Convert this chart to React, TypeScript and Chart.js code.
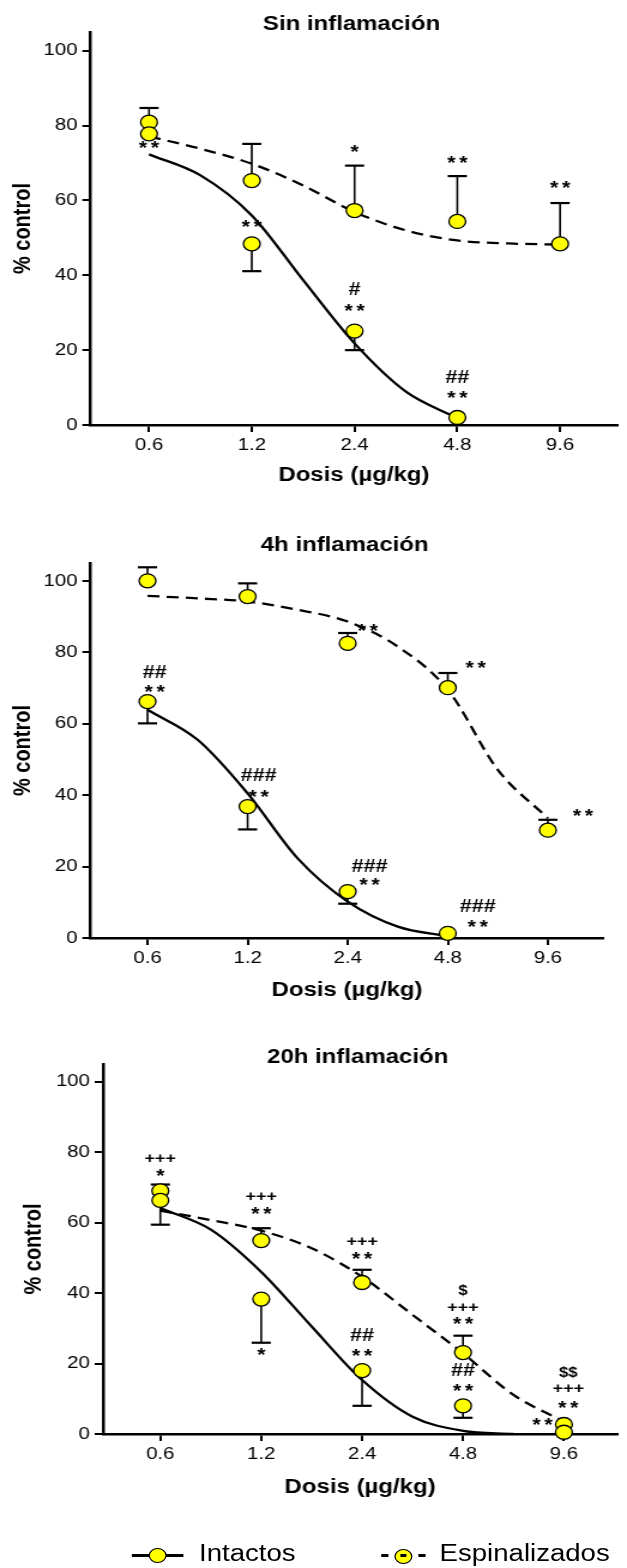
import React, { useEffect, useRef } from 'react';
import { Chart, registerables } from 'chart.js';

Chart.register(...registerables);

const FONT = "'Liberation Sans', Arial, Helvetica, sans-serif";
const W = 523;
const STRETCH = 627 / W;

// ---------- shared labels ----------
const doses = [0.6, 1.2, 2.4, 4.8, 9.6];
const xTickLabels = ['0.6', '1.2', '2.4', '4.8', '9.6'];
const yTicks = [0, 20, 40, 60, 80, 100];
const panelTitles = ['Sin inflamación', '4h inflamación', '20h inflamación'];
const xAxisTitle = 'Dosis (µg/kg)';
const yAxisTitle = '% control';
const legendLabels = ['Intactos', 'Espinalizados'];
const fitDoses = [0.6, 0.849, 1.2, 1.697, 2.4, 3.394, 4.8, 6.788, 9.6];

// ---------- panel 1: Sin inflamación ----------
const p1IntDose = [0.6, 1.2, 2.4, 4.8];
const p1IntMean = [77.8, 48.4, 25.1, 2.0];
const p1IntErr = [null, 41.1, 20.0, null];
const p1IntFit = [72.3, 66.7, 56.0, 38.7, 21.8, 8.9, 1.8];
const p1EspDose = [0.6, 1.2, 2.4, 4.8, 9.6];
const p1EspMean = [80.9, 65.3, 57.3, 54.4, 48.4];
const p1EspErr = [84.7, 75.1, 69.3, 66.5, 59.3];
const p1EspFit = [77.1, 73.8, 69.8, 64.0, 56.9, 52.0, 49.3, 48.5, 48.2];
const p1Marks: [number, number, string][] = [
  [0.6, 75.1, '**'], [1.2, 54.2, '**'], [2.4, 74.2, '*'], [2.4, 36.4, '#'], [2.4, 31.6, '**'],
  [4.8, 71.1, '**'], [4.8, 12.9, '##'], [4.8, 8.4, '**'], [9.6, 64.6, '**'],
];

// ---------- panel 2: 4h inflamación ----------
const p2IntDose = [0.6, 1.2, 2.4, 4.8];
const p2IntMean = [66.2, 36.8, 13.0, 1.3];
const p2IntErr = [60.1, 30.4, 9.6, null];
const p2IntFit = [63.9, 55.5, 40.5, 22.3, 10.2, 3.2, 0.5];
const p2EspDose = [0.6, 1.2, 2.4, 4.8, 9.6];
const p2EspMean = [100.0, 95.6, 82.5, 70.1, 30.2];
const p2EspErr = [103.8, 99.3, 85.4, 74.2, 33.1];
const p2EspFit = [95.8, 95.1, 94.2, 91.9, 88.6, 81.6, 69.5, 47.1, 33.5];
const p2Marks: [number, number, string][] = [
  [0.63, 74.6, '##'], [0.63, 70.1, '**'], [2.76, 87.2, '**'], [5.82, 76.8, '**'], [12.25, 35.4, '**'],
  [1.295, 45.7, '###'], [1.295, 40.7, '**'], [2.79, 20.3, '###'], [2.79, 16.0, '**'],
  [5.91, 9.2, '###'], [5.91, 4.4, '**'],
];

// ---------- panel 3: 20h inflamación ----------
const p3IntDose = [0.6, 1.2, 2.4, 4.8, 9.6];
const p3IntMean = [66.3, 38.3, 18.0, 8.0, 0.5];
const p3IntErr = [59.4, 25.9, 8.0, 4.6, null];
const p3IntFit = [64.1, 58.0, 46.0, 30.5, 15.3, 4.9, 0.9, 0.0];
const p3EspDose = [0.6, 1.2, 2.4, 4.8, 9.6];
const p3EspMean = [69.0, 54.9, 43.0, 23.1, 2.7];
const p3EspErr = [70.8, 58.4, 46.6, 27.9, null];
const p3EspFit = [63.4, 60.7, 57.7, 52.7, 44.6, 33.8, 22.9, 11.1, 3.5];
const p3Marks: [number, number, string][] = [
  [0.6, 78.4, '+++'], [0.6, 74.5, '*'], [1.2, 67.6, '+++'], [1.2, 63.6, '**'], [1.2, 23.8, '*'],
  [2.4, 54.8, '+++'], [2.4, 50.8, '**'], [2.4, 28.1, '##'], [2.4, 23.4, '**'],
  [4.8, 40.9, '$'], [4.8, 36.1, '+++'], [4.8, 32.6, '**'], [4.8, 18.2, '##'], [4.8, 13.6, '**'],
  [9.9, 17.7, '$$'], [9.9, 13.0, '+++'], [9.9, 8.7, '**'], [8.28, 3.7, '**'],
];

// ---------- layout (not data) ----------
type Lay = { top: number; height: number; padL: number; padR: number; padT: number; padB: number; yW: number; xH: number; titleY: number; xMin: number; xMax: number };
const layouts: Lay[] = [
  { top: 0, height: 500, padL: 7, padR: 3.3, padT: 32, padB: 13, yW: 68.7, xH: 62, titleY: 24, xMin: 0.405, xMax: 14.1 },
  { top: 510, height: 500, padL: 7, padR: 19.7, padT: 53, padB: 8, yW: 68.7, xH: 64, titleY: 545, xMin: 0.405, xMax: 14.1 },
  { top: 1020, height: 490, padL: 16, padR: 0, padT: 44, padB: 11, yW: 70, xH: 65, titleY: 1057, xMin: 0.405, xMax: 13.83 },
];

const panels = [
  { title: panelTitles[0], intDose: p1IntDose, intMean: p1IntMean, intErr: p1IntErr, intFit: p1IntFit, espDose: p1EspDose, espMean: p1EspMean, espErr: p1EspErr, espFit: p1EspFit, marks: p1Marks, lay: layouts[0] },
  { title: panelTitles[1], intDose: p2IntDose, intMean: p2IntMean, intErr: p2IntErr, intFit: p2IntFit, espDose: p2EspDose, espMean: p2EspMean, espErr: p2EspErr, espFit: p2EspFit, marks: p2Marks, lay: layouts[1] },
  { title: panelTitles[2], intDose: p3IntDose, intMean: p3IntMean, intErr: p3IntErr, intFit: p3IntFit, espDose: p3EspDose, espMean: p3EspMean, espErr: p3EspErr, espFit: p3EspFit, marks: p3Marks, lay: layouts[2] },
];

// [font size, glyph centre above baseline (em), letter spacing px]
const markStyle = (t: string): [number, number, number] => {
  const c = t[0];
  if (c === '*') return [18, 0.58, 3];
  if (c === '#') return [18, 0.36, 0];
  if (c === '+') return [15, 0.33, 0];
  return [14, 0.36, 0];
};

function Panel({ spec }: { spec: any }) {
  const ref = useRef<HTMLCanvasElement>(null);
  useEffect(() => {
    const canvas = ref.current!;
    const L: Lay = spec.lay;
    const decor = {
      id: 'decor',
      beforeDatasetsDraw(chart: any) {
        const ctx = chart.ctx;
        const xs = chart.scales.x, ys = chart.scales.y;
        ctx.save();
        ctx.strokeStyle = '#000';
        const series = [[spec.intDose, spec.intMean, spec.intErr], [spec.espDose, spec.espMean, spec.espErr]];
        for (const [d, m, e] of series) {
          d.forEach((dose: number, i: number) => {
            if (e[i] == null) return;
            const x = xs.getPixelForValue(dose);
            const y0 = ys.getPixelForValue(m[i]);
            const y1 = ys.getPixelForValue(e[i]);
            ctx.lineWidth = 1.6;
            ctx.beginPath(); ctx.moveTo(x, y0); ctx.lineTo(x, y1); ctx.stroke();
            ctx.lineWidth = 2.2;
            ctx.beginPath(); ctx.moveTo(x - 8, y1); ctx.lineTo(x + 8, y1); ctx.stroke();
          });
        }
        ctx.restore();
      },
      afterDatasetsDraw(chart: any) {
        const ctx = chart.ctx;
        const xs = chart.scales.x, ys = chart.scales.y;
        ctx.save();
        ctx.fillStyle = '#000';
        ctx.textAlign = 'center';
        ctx.textBaseline = 'alphabetic';
        for (const [dose, val, txt] of spec.marks) {
          const [size, k, sp] = markStyle(txt);
          ctx.font = `bold ${size}px ${FONT}`;
          try { (ctx as any).letterSpacing = `${sp}px`; } catch (e) { /* ignore */ }
          ctx.fillText(txt, xs.getPixelForValue(dose) + sp / 2, ys.getPixelForValue(val) + k * size);
        }
        try { (ctx as any).letterSpacing = '0px'; } catch (e) { /* ignore */ }
        const a = chart.chartArea;
        ctx.font = `bold 20px ${FONT}`;
        ctx.textBaseline = 'middle';
        ctx.fillText(spec.title, (a.left + a.right) / 2 - 2, L.titleY - L.top);
        ctx.restore();
      },
    };
    const pts = (d: number[], m: number[]) => d.map((x, i) => ({ x, y: m[i] }));
    const pointDs = (label: string, d: number[], m: number[]) => ({
      label, data: pts(d, m), showLine: false, pointRadius: 7, pointHoverRadius: 7,
      pointBackgroundColor: '#FFFF00', pointBorderColor: '#000', pointBorderWidth: 1.3, clip: false as any, order: 0,
    });
    const fitDs = (label: string, f: number[], dash: number[]) => ({
      label, data: pts(fitDoses.slice(0, f.length), f), borderColor: '#000', borderWidth: 2.3,
      borderDash: dash, pointRadius: 0, cubicInterpolationMode: 'monotone' as const, fill: false, order: 2,
    });
    const tickFont = { family: FONT, size: 17 };
    const titleFont = { family: FONT, size: 20, weight: 'bold' as const };
    const chart = new Chart(canvas, {
      type: 'line',
      data: {
        datasets: [
          pointDs(legendLabels[0], spec.intDose, spec.intMean),
          pointDs(legendLabels[1], spec.espDose, spec.espMean),
          fitDs(legendLabels[0] + ' ajuste', spec.intFit, []),
          fitDs(legendLabels[1] + ' ajuste', spec.espFit, [10, 6]),
        ] as any,
      },
      options: {
        animation: false,
        responsive: false,
        devicePixelRatio: 1,
        events: [],
        layout: { padding: { left: L.padL, right: L.padR, top: L.padT, bottom: L.padB } },
        plugins: { legend: { display: false }, tooltip: { enabled: false }, title: { display: false } },
        scales: {
          x: {
            type: 'logarithmic', min: L.xMin, max: L.xMax,
            afterBuildTicks: (s: any) => { s.ticks = doses.map((v) => ({ value: v })); },
            afterFit: (s: any) => { s.height = L.xH; },
            ticks: { autoSkip: false, maxRotation: 0, color: '#000', font: tickFont, padding: 3, callback: (_v: any, i: number) => xTickLabels[i] },
            grid: { display: true, drawOnChartArea: false, drawTicks: true, tickLength: 7, color: '#000', lineWidth: 2 },
            border: { display: true, color: '#000', width: 2.5 },
            title: { display: true, text: xAxisTitle, color: '#000', font: titleFont, padding: 0 },
          },
          y: {
            type: 'linear', min: 0, max: 105,
            afterBuildTicks: (s: any) => { s.ticks = yTicks.map((v) => ({ value: v })); },
            afterFit: (s: any) => { s.width = L.yW; },
            ticks: { color: '#000', font: tickFont, padding: 4, callback: (v: any) => String(v) },
            grid: { display: true, drawOnChartArea: false, drawTicks: true, tickLength: 7, color: '#000', lineWidth: 2 },
            border: { display: true, color: '#000', width: 2.5 },
            title: { display: true, text: yAxisTitle, color: '#000', font: titleFont, padding: 0 },
          },
        },
      } as any,
      plugins: [decor],
    });
    return () => chart.destroy();
  }, [spec]);
  return (
    <canvas ref={ref} width={W} height={spec.lay.height}
      style={{ position: 'absolute', left: 0, top: spec.lay.top, width: W, height: spec.lay.height }} />
  );
}

export default function App() {
  const legendFont = `23px ${FONT}`;
  return (
    <div style={{ position: 'absolute', left: 0, top: 0, width: 627, height: 1568, overflow: 'hidden', background: '#fff' }}>
      <div style={{ position: 'absolute', left: 0, top: 0, width: W, height: 1568, transform: `scaleX(${STRETCH})`, transformOrigin: '0 0' }}>
        {panels.map((p, i) => <Panel key={i} spec={p} />)}
        {/* legend */}
        <div style={{ position: 'absolute', left: 110, top: 1554, width: 43, height: 3, background: '#000' }} />
        <div style={{ position: 'absolute', left: 123.5, top: 1548, width: 15, height: 15, boxSizing: 'border-box', borderRadius: '50%', border: '1.5px solid #000', background: '#FFFF00' }} />
        <span style={{ position: 'absolute', left: 166, top: 1541.7, font: legendFont, lineHeight: '23px', whiteSpace: 'nowrap', color: '#000' }}>{legendLabels[0]}</span>
        <div style={{ position: 'absolute', left: 318, top: 1553.5, width: 6, height: 3, background: '#000' }} />
        <div style={{ position: 'absolute', left: 328.5, top: 1549, width: 15, height: 15, boxSizing: 'border-box', borderRadius: '50%', border: '1.5px solid #000', background: '#FFFF00' }} />
        <div style={{ position: 'absolute', left: 333.5, top: 1554, width: 5, height: 3, background: '#000' }} />
        <div style={{ position: 'absolute', left: 349, top: 1553.5, width: 6, height: 3, background: '#000' }} />
        <span style={{ position: 'absolute', left: 366.7, top: 1541.7, font: legendFont, lineHeight: '23px', whiteSpace: 'nowrap', color: '#000' }}>{legendLabels[1]}</span>
      </div>
    </div>
  );
}
